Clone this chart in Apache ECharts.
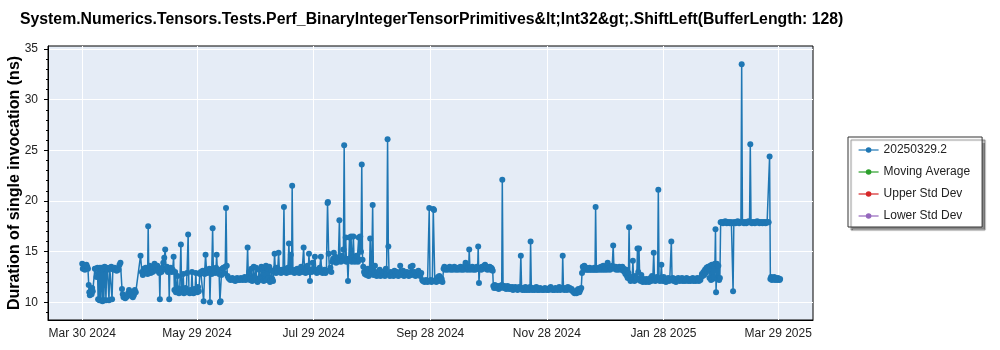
<!DOCTYPE html>
<html>
<head>
<meta charset="utf-8">
<script src="https://cdn.jsdelivr.net/npm/echarts@6/dist/echarts.min.js"></script>
<style>
html,body{margin:0;padding:0;background:#fff;}
#chart{width:1000px;height:350px;}
</style>
</head>
<body>
<div id="chart"></div>
<script>
const TITLE = 'System.Numerics.Tensors.Tests.Perf_BinaryIntegerTensorPrimitives&lt;Int32&gt;.ShiftLeft(BufferLength: 128)';
const Y_NAME = 'Duration of single invocation (ns)';
const START_DATE = '2024-03-30';
const seriesNames = ['20250329.2', 'Moving Average', 'Upper Std Dev', 'Lower Std Dev'];
const seriesColors = ['#1f77b4', '#2ca02c', '#d62728', '#9467bd'];
const xTickDates = ['2024-03-30', '2024-05-29', '2024-07-29', '2024-09-28', '2024-11-28', '2025-01-28', '2025-03-29'];
const xTickLabels = ['Mar 30 2024', 'May 29 2024', 'Jul 29 2024', 'Sep 28 2024', 'Nov 28 2024', 'Jan 28 2025', 'Mar 29 2025'];
const yTickValues = [10, 15, 20, 25, 30, 35];
const yMinorTickValues = [9,10,11,12,13,14,15,16,17,18,19,20,21,22,23,24,25,26,27,28,29,30,31,32,33,34,35];

// [days since START_DATE, duration in ns]
const perfPoints = [
[0.0,13.8],[0.3,13.3],[0.7,13.7],[1.0,13.5],[1.4,13.2],[1.8,13.6],[2.2,13.7],[2.6,13.5],[3.0,13.3],
[3.4,11.7],[3.7,11.0],[4.0,10.7],[4.3,10.9],[4.6,11.2],[4.9,10.8],[5.2,11.4],[5.5,11.1],[6.6,13.3],
[7.0,13.3],[7.5,12.5],[8.0,13.4],[8.3,10.3],[8.6,13.3],[9.0,10.2],[9.3,13.4],[9.6,10.2],[10.0,13.2],[10.3,13.4],[10.6,10.1],[11.0,13.3],[11.3,10.2],[11.7,13.5],[12.0,13.3],[12.4,10.2],[12.8,13.4],[13.2,13.2],[13.6,13.3],[14.0,10.2],[14.4,13.4],[14.8,13.3],[15.2,13.5],[15.6,10.3],[16.0,13.3],[16.5,13.2],[17.0,13.4],[17.5,13.3],[18.0,13.1],[18.5,13.3],[19.0,13.2],[19.5,13.7],[20.0,13.9],
[20.8,11.3],[21.2,10.8],[21.6,10.5],[22.0,10.6],[22.5,10.4],[23.0,10.5],[23.5,10.6],[24.0,10.9],[24.5,11.2],[25.0,11.0],[25.5,10.8],[26.0,10.6],[26.5,10.5],[27.0,10.7],[27.5,11.2],[28.0,11.0],
[30.5,14.6],[31.2,13.0],[31.7,12.7],[32.2,13.3],[32.7,12.9],[33.2,13.4],[33.7,13.1],[34.2,12.8],[34.5,17.5],[34.8,13.2],[35.3,13.6],[35.8,12.9],[36.3,13.3],[36.8,13.0],[37.3,13.5],[37.8,13.8],[38.3,13.4],[38.8,13.1],[39.3,13.6],[39.8,13.2],[40.3,12.9],[40.6,10.3],[40.9,13.3],[41.4,13.0],[41.9,13.4],[42.4,13.9],[42.9,14.4],[43.4,15.2],[43.8,13.2],[44.3,13.5],[44.8,13.0],[45.2,13.3],[45.5,10.3],[45.8,13.1],[46.3,13.4],[46.8,13.0],[47.3,13.2],[47.8,14.5],
[48.2,11.2],[48.6,13.0],[49.0,11.0],[49.4,11.4],[49.8,12.6],[50.2,11.1],[50.6,10.9],[51.0,11.3],[51.6,15.7],[52.0,11.0],[52.4,11.2],[52.8,12.8],[53.2,10.9],[53.6,11.1],[54.0,11.4],[54.4,11.0],[54.8,12.9],[55.4,16.7],[55.8,11.1],[56.2,10.9],[56.6,11.2],[57.0,11.0],[57.4,13.0],[57.8,11.1],[58.2,10.9],[58.6,11.3],[59.0,11.0],[59.4,12.9],[59.8,11.2],[60.2,11.0],[60.6,11.5],[61.0,11.1],[61.5,12.8],[62.0,13.0],
[62.5,12.9],[63.0,13.1],[63.5,10.1],[64.0,12.8],[64.5,14.7],[65.0,13.2],[65.5,12.9],[66.0,13.0],[66.5,13.3],[66.8,10.0],[67.2,13.1],[67.7,12.8],[68.2,17.3],[68.6,13.0],[69.0,13.2],[69.5,12.9],[70.0,13.4],[70.3,14.7],[70.7,13.0],[71.2,13.2],[71.6,12.8],[72.0,10.0],[72.4,10.1],[72.8,12.7],[73.2,13.3],
[73.8,13.4],[74.3,12.9],[74.8,13.5],[75.2,19.3],[75.6,13.6],[76.0,12.6],[76.5,12.4],[77.0,12.3],[77.5,12.2],[78.0,12.3],[78.5,12.4],[79.0,12.2],[79.5,12.3],[80.0,12.1],[80.5,12.3],[81.0,12.4],[81.5,12.2],[82.0,12.3],[82.5,12.2],[83.0,12.4],[83.5,12.3],[84.0,12.2],[84.5,12.3],[85.0,12.5],[85.5,12.2],[86.0,12.4],[86.5,15.4],[86.9,12.3],[87.3,13.0],[87.7,12.2],[88.1,12.4],[88.5,13.3],[88.9,12.1],[89.3,12.3],[89.7,13.5],[90.1,12.2],[90.5,12.4],[90.9,13.4],[91.3,12.2],[91.7,12.0],[92.1,12.3],[92.5,13.2],[92.9,12.2],
[93.3,12.4],[93.7,13.5],[94.1,12.3],[94.5,13.2],[94.9,12.1],[95.3,13.4],[95.7,12.3],[96.1,13.6],[96.5,12.2],[97.0,13.3],[97.4,12.4],[97.8,13.5],[98.2,12.0],[98.6,12.2],[99.0,13.1],[99.4,12.3],[99.8,12.1],[100.2,13.0],[100.6,14.8],[101.0,13.3],[101.4,12.9],[101.8,13.4],[102.2,13.0],[102.7,14.9],[103.1,13.2],
[103.6,13.1],[104.0,12.9],[104.5,13.2],[105.0,13.0],[105.5,19.4],[105.9,13.1],[106.3,13.3],[106.8,12.9],[107.2,13.1],[107.6,13.4],[108.1,15.8],[108.5,13.0],[109.1,14.7],[109.5,13.2],[109.8,21.5],[110.2,13.0],[110.6,13.1],[111.0,12.9],[111.5,13.2],[112.0,13.0],[112.5,13.3],[113.0,13.1],[113.5,12.9],[114.0,13.2],[114.5,13.5],[115.0,13.0],[115.8,15.4],[116.3,13.1],[116.8,12.9],[117.3,13.2],[117.8,13.6],[118.2,13.0],[118.6,14.8],[119.1,12.1],[119.5,13.2],[120.0,13.0],[120.5,13.9],[121.0,13.3],[121.7,14.5],[122.2,13.1],[122.7,12.9],[123.2,13.2],[123.7,13.0],[124.2,13.4],[124.8,14.5],[125.2,13.1],[125.7,12.9],[126.2,13.0],[126.7,13.2],[127.2,12.9],[127.7,13.1],[128.3,19.8],[128.5,19.9],[128.9,14.8],[129.3,13.1],[129.8,13.4],[130.3,13.0],
[130.8,14.0],[131.2,14.3],[131.6,14.9],[132.0,14.1],[132.4,14.5],[132.8,13.9],[133.2,14.2],[133.6,14.0],[134.0,14.4],[134.5,18.1],[134.9,14.2],[135.3,14.0],[135.7,14.6],[136.2,14.1],[136.6,15.2],[137.0,25.5],[137.4,14.3],[137.8,16.4],[138.2,14.0],[138.6,14.2],[139.0,12.1],[139.4,14.3],[139.8,16.4],[140.2,14.1],[140.6,16.5],[141.0,14.0],[141.4,14.4],[141.8,16.5],[142.2,14.2],[142.6,14.0],[143.0,14.3],[143.4,14.6],[143.8,14.1],[144.2,14.0],[144.6,16.4],[145.0,14.2],[145.4,16.5],[145.8,15.0],[146.2,23.6],[146.6,14.2],
[147.0,13.5],[147.4,13.0],[147.8,12.8],[148.2,13.2],[148.6,12.7],[149.0,12.9],[149.4,13.3],[149.8,12.6],[150.2,12.8],[150.6,16.3],[151.0,12.9],[151.4,13.3],[151.9,19.6],[152.3,12.7],[152.7,12.9],[153.1,13.6],[153.5,12.8],[154.0,12.6],[154.4,13.0],[154.8,12.7],[155.2,12.9],[155.6,13.2],[156.0,12.6],[156.5,12.8],[157.0,13.0],[157.4,12.7],[157.9,12.9],[158.3,12.6],[158.8,13.3],[159.2,12.8],[159.7,26.1],[160.1,15.5],[160.5,12.8],[160.9,12.6],[161.4,13.0],[161.8,12.7],[162.3,12.9],[162.8,12.6],[163.3,13.1],[163.8,12.8],[164.3,12.7],[164.8,13.0],[165.3,12.6],[165.8,12.9],[166.3,13.6],[166.8,12.8],[167.3,12.7],[167.8,13.1],[168.3,12.6],[168.8,12.9],[169.3,12.7],[169.8,13.0],[170.3,12.8],[170.8,12.6],[171.3,12.9],[171.8,13.5],[172.3,12.7],[172.8,13.6],[173.3,12.8],[173.8,13.0],[174.3,12.6],[174.8,12.9],[175.3,12.7],[175.8,13.1],[176.3,12.8],[176.8,12.6],[177.3,12.9],
[177.8,12.2],[178.2,12.1],[178.6,12.1],[179.0,12.0],[179.4,12.1],[179.8,12.2],[180.2,12.1],[180.6,12.0],[181.0,12.1],[181.5,19.3],[181.9,12.1],[182.3,12.2],[182.7,12.0],[183.1,12.1],[183.6,19.2],[184.0,19.1],[184.4,12.1],[184.8,12.2],[185.2,12.0],[185.6,12.1],[186.0,12.5],[186.4,12.2],[186.8,12.6],[187.2,12.1],[187.6,12.4],[188.0,12.3],[188.4,12.0],
[189.0,13.3],[189.4,13.5],[189.8,13.2],[190.2,13.4],[190.6,13.3],[191.0,13.2],[191.4,13.4],[191.8,13.3],[192.2,13.5],[192.6,13.2],[193.0,13.3],[193.4,13.4],[193.8,13.2],[194.2,13.3],[194.6,13.5],[195.0,13.3],[195.4,13.2],[195.8,13.4],[196.2,13.3],[196.6,13.2],[197.0,13.4],[197.4,13.3],[197.8,13.5],[198.2,13.2],[198.6,13.3],[199.0,13.4],[199.4,13.2],[199.8,13.3],[200.2,13.6],[200.5,13.9],[200.9,13.3],[201.3,13.2],[201.7,13.4],[202.1,13.3],[202.4,15.2],[202.8,13.2],[203.2,13.4],[203.6,13.3],[204.0,13.5],[204.4,13.2],[204.8,13.3],[205.2,13.4],[205.6,13.2],[206.0,13.3],[206.4,13.5],[206.8,13.3],[207.1,15.5],[207.5,11.9],[207.9,13.3],[208.3,13.4],[208.7,13.2],[209.1,13.5],[209.5,13.3],[209.9,13.4],[210.3,13.6],[210.7,13.7],[211.1,13.3],[211.5,13.5],[211.9,13.2],[212.3,13.4],[212.7,13.3],[213.1,13.5],[213.5,13.2],[213.9,13.4],[214.3,13.3],[214.7,13.1],
[215.0,11.6],[215.4,11.4],[215.8,11.7],[216.2,11.5],[216.6,11.4],[217.0,11.6],[217.4,11.5],[217.8,11.3],[218.2,11.6],[218.6,11.4],[219.0,11.5],[219.4,11.7],[219.7,22.1],[220.1,11.5],[220.5,11.4],[220.9,11.6],[221.3,11.5],[221.7,11.3],[222.1,11.5],[222.5,11.6],[222.9,11.4],[223.3,11.3],[223.7,11.5],[224.1,11.4],[224.5,11.3],[224.9,11.5],[225.3,11.2],[225.7,11.4],[226.1,11.3],[226.5,11.5],[226.9,11.3],[227.3,11.4],[227.7,11.2],[228.1,11.3],[228.5,11.5],[228.9,11.3],[229.4,14.6],[229.8,11.4],[230.2,11.2],[230.6,11.3],[231.0,11.4],[231.4,11.2],[231.8,11.5],[232.2,11.3],[232.6,11.2],[233.0,11.4],[233.4,11.3],[233.8,11.2],[234.2,11.5],[234.5,16.0],[234.9,11.3],[235.3,11.2],[235.7,11.4],[236.1,11.3],[236.5,11.2],[237.0,11.3],[237.5,11.5],[238.0,11.2],[238.5,11.3],[239.0,11.2],[239.5,11.4],[240.0,11.3],[240.5,11.2],[241.0,11.3],[241.5,11.2],[242.0,11.4],[242.5,11.3],[243.0,11.2],[243.5,11.3],[244.0,11.2],[244.5,11.4],[245.0,11.5],[245.5,11.3],[246.0,11.2],[246.5,11.3],[247.0,11.2],[247.5,11.4],[248.0,11.3],[248.5,11.2],[249.0,11.3],[249.5,11.5],[250.0,11.2],[250.5,11.3],[251.0,11.4],[251.3,14.6],[251.7,11.3],[252.1,11.2],[252.5,11.4],[253.0,11.3],[253.5,11.2],[254.0,11.5],[254.5,11.3],[255.0,11.4],[255.5,11.2],[256.0,11.3],[256.5,11.1],[257.0,11.0],[257.5,10.9],[258.0,11.1],[258.5,10.9],[259.0,11.2],[259.5,11.3],[260.0,11.0],[260.5,11.2],[261.0,11.4],
[261.4,12.9],[261.8,13.5],[262.2,13.2],[262.6,13.6],[263.0,13.3],[263.4,13.2],[263.8,13.4],[264.2,13.2],[264.6,13.3],[265.0,13.2],[265.4,13.4],[265.8,13.2],[266.2,13.3],[266.6,13.2],[267.0,13.3],[267.4,13.2],[267.8,13.4],[268.2,13.2],[268.5,19.4],[268.9,13.2],[269.3,13.3],[269.7,13.2],[270.1,13.4],[270.5,13.3],[270.9,13.2],[271.3,13.5],[271.7,13.3],[272.1,13.2],[272.5,13.6],[272.9,13.3],[273.3,13.2],[273.7,13.4],[274.1,13.3],[274.5,13.2],[274.8,13.9],[275.2,13.3],[275.6,13.4],[276.0,13.2],[276.4,13.5],[276.8,13.3],[277.2,13.6],[277.7,15.6],[278.1,13.4],[278.5,13.3],[278.9,13.5],[279.3,13.2],[279.7,13.4],[280.1,13.3],[280.5,13.2],[280.9,13.5],[281.3,13.3],
[281.7,13.4],[282.1,13.2],[282.5,13.5],[282.9,13.1],[283.3,13.3],[283.7,13.0],[284.1,12.8],[284.5,13.2],[284.9,12.6],[285.3,12.4],[285.7,12.9],[286.0,17.4],[286.4,12.3],[286.8,12.1],[287.2,12.5],[287.6,12.2],[288.0,14.1],[288.4,12.3],[288.8,12.1],[289.2,12.6],[289.6,12.2],[290.0,12.4],[290.4,15.3],[290.8,13.0],[291.2,15.3],[291.6,12.3],[292.0,12.1],[292.4,12.7],[292.8,12.2],[293.2,12.0],[293.6,12.3],[294.0,12.1],[294.4,12.2],[294.8,12.0],[295.2,12.3],[295.6,12.1],[296.0,12.2],[296.4,12.0],[296.8,12.2],
[297.2,12.4],[297.6,12.1],[298.0,12.6],[298.4,12.2],[298.9,14.9],[299.3,12.3],[299.7,12.1],[300.1,12.4],[300.5,12.5],[300.9,12.2],[301.3,21.1],[301.7,12.3],[302.1,12.1],[302.5,12.4],[302.9,13.7],[303.3,12.2],[303.7,12.1],[304.1,12.5],[304.5,12.3],[304.9,12.2],[305.3,12.0],[305.7,12.3],[306.1,12.2],[306.5,12.4],[306.9,12.1],[307.3,12.3],[307.7,12.2],[308.1,16.0],[308.5,12.2],[308.9,12.4],[309.3,12.1],[309.7,12.3],[310.1,12.2],[310.5,12.0],[310.9,12.3],[311.3,12.2],[311.7,12.4],[312.1,12.2],[312.5,12.1],[312.9,12.3],[313.3,12.2],[313.7,12.4],[314.1,12.1],[314.5,12.2],[314.9,12.3],[315.3,12.1],[315.7,12.2],[316.1,12.4],[316.5,12.2],[316.9,12.1],[317.3,12.3],[317.7,12.2],[318.1,12.1],[318.5,12.3],[318.9,12.2],[319.3,12.4],[319.7,12.1],[320.1,12.2],[320.5,12.3],[320.9,12.1],[321.3,12.2],[321.7,12.4],[322.1,12.2],[322.5,12.1],[322.9,12.3],[323.3,12.2],
[323.7,12.5],[324.1,12.8],[324.5,12.6],[324.9,13.0],[325.3,12.7],[325.7,13.2],[326.1,12.9],[326.5,13.4],[326.9,13.1],[327.3,13.5],[327.7,13.3],[328.1,12.4],[328.5,13.6],[328.9,12.2],[329.3,13.7],[329.7,12.3],[330.1,13.6],[330.5,12.5],[330.9,13.8],[331.2,17.2],[331.5,11.0],[331.9,13.8],[332.3,12.3],[332.7,13.6],[333.1,12.2],[333.5,12.4],[333.9,17.9],
[334.3,17.9],[334.7,17.9],[335.1,17.8],[335.5,17.9],[335.9,17.9],[336.3,18.0],[336.7,17.9],[337.1,17.8],[337.5,17.9],[337.9,17.9],[338.3,17.9],[338.7,17.8],[339.1,17.9],[339.5,17.9],[339.9,17.8],[340.4,11.1],[340.8,17.9],[341.2,17.9],[341.6,17.8],[342.0,17.9],[342.4,17.9],[342.8,18.0],[343.2,17.9],[343.6,17.8],[344.0,17.9],[344.5,17.9],[344.9,33.5],[345.3,17.9],[345.7,17.9],[346.1,17.8],[346.5,17.9],[346.9,17.9],[347.3,17.8],[347.7,17.9],[348.1,17.9],[348.5,18.0],[349.0,17.9],[349.4,25.6],[349.8,17.9],[350.2,17.8],[350.6,17.9],[351.0,17.9],[351.4,17.9],[351.8,17.8],[352.2,17.9],[352.6,17.9],[353.0,18.0],[353.4,17.9],[353.8,17.9],[354.2,17.8],[354.6,17.9],[355.0,17.9],[355.4,17.9],[355.8,17.8],[356.2,17.9],[356.6,17.9],[357.0,17.9],[357.4,17.8],[357.8,17.9],[358.2,17.9],[358.6,17.9],[359.0,17.9],[359.5,24.4],
[359.9,12.3],[360.3,12.5],[360.7,12.2],[361.1,12.4],[361.5,12.3],[361.9,12.5],[362.3,12.2],[362.7,12.4],[363.1,12.3],[363.5,12.2],[363.9,12.4],[364.3,12.3],[364.7,12.2],[365.0,12.3]
];

const DAY_MS = 86400000;
const dayOf = d => (Date.parse(d) - Date.parse(START_DATE)) / DAY_MS;
const xTickDays = xTickDates.map(dayOf);
const labelForDay = v => {
  for (let i = 0; i < xTickDays.length; i++) if (Math.abs(xTickDays[i] - v) < 1e-6) return xTickLabels[i];
  return '';
};

const FONT = 'Liberation Sans';
const chart = echarts.init(document.getElementById('chart'), null, {renderer: 'canvas'});

const series = seriesNames.map((name, i) => ({
  name: name,
  type: 'line',
  data: i === 0 ? perfPoints : [],
  symbol: 'circle',
  symbolSize: 6,
  showSymbol: true,
  showAllSymbol: true,
  color: seriesColors[i],
  lineStyle: {width: 1.5, color: seriesColors[i]},
  itemStyle: {color: seriesColors[i]},
  emphasis: {disabled: true},
  animation: false
}));

chart.setOption({
  animation: false,
  backgroundColor: '#ffffff',
  textStyle: {fontFamily: FONT},
  title: {
    text: TITLE,
    left: 15,
    top: 7,
    textStyle: {fontFamily: FONT, fontSize: 15.8, fontWeight: 'bold', color: '#000'}
  },
  legend: {
    orient: 'vertical',
    left: 848,
    top: 137,
    padding: [7, 12, 5, 10],
    itemWidth: 20,
    itemHeight: 7,
    itemGap: 10,
    backgroundColor: '#ffffff',
    borderColor: '#333333',
    borderWidth: 1,
    shadowColor: 'rgba(0,0,0,0.45)',
    shadowBlur: 1,
    shadowOffsetX: 3,
    shadowOffsetY: 3,
    lineStyle: {width: 1.2},
    textStyle: {fontFamily: FONT, fontSize: 12, color: '#222'},
    data: seriesNames
  },
  grid: {
    left: 48, right: 187, top: 46, bottom: 30,
    show: true,
    backgroundColor: '#e5ecf6',
    borderColor: '#000',
    borderWidth: 1,
    containLabel: false,
    outerBoundsMode: 'none'
  },
  xAxis: {
    type: 'value',
    min: -17.9,
    max: 382.2,
    axisLine: {show: true, onZero: false, lineStyle: {color: '#000', width: 1}},
    axisTick: {show: false, customValues: xTickDays},
    axisLabel: {
      customValues: xTickDays,
      formatter: labelForDay,
      fontFamily: FONT, fontSize: 12, color: '#222', margin: 8
    },
    splitLine: {show: true, lineStyle: {color: '#ffffff', width: 1}}
  },
  yAxis: [{
    type: 'value',
    min: 8.25,
    max: 35.3,
    name: Y_NAME,
    nameLocation: 'middle',
    nameGap: 25,
    nameMoveOverlap: false,
    nameTextStyle: {fontFamily: FONT, fontSize: 16, fontWeight: 'bold', color: '#000'},
    axisLine: {show: true, onZero: false, lineStyle: {color: '#000', width: 1}},
    axisTick: {show: true, length: 4, customValues: yTickValues, lineStyle: {color: '#000'}},
    axisLabel: {customValues: yTickValues, fontFamily: FONT, fontSize: 12, color: '#222', margin: 10},
    splitLine: {show: true, lineStyle: {color: '#ffffff', width: 1}}
  }, {
    type: 'value',
    min: 8.25,
    max: 35.3,
    position: 'left',
    axisLine: {show: false, onZero: false},
    axisTick: {show: true, length: 2, customValues: yMinorTickValues, lineStyle: {color: '#000'}},
    axisLabel: {show: false},
    splitLine: {show: false}
  }],
  series: series
});
</script>
</body>
</html>
